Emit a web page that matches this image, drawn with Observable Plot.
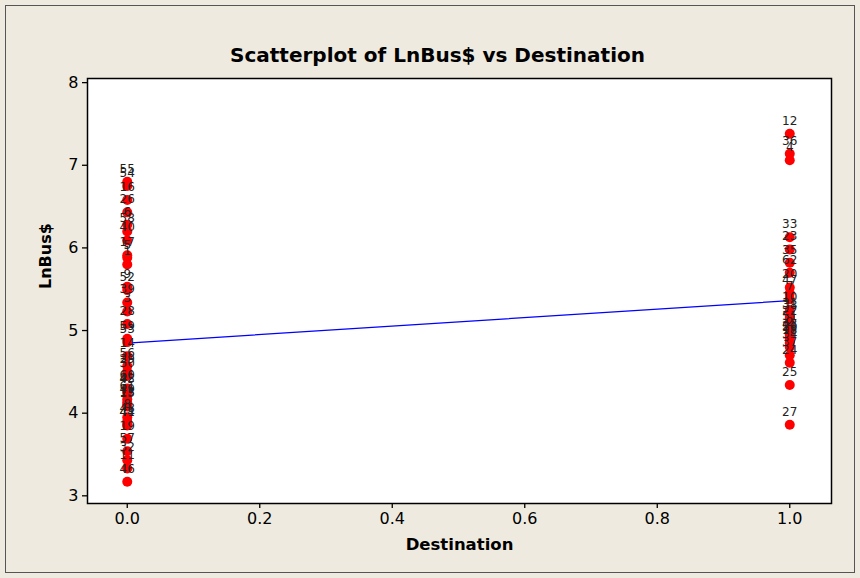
<!DOCTYPE html>
<html><head><meta charset="utf-8">
<script src="https://cdn.jsdelivr.net/npm/d3@7"></script>
<script src="https://cdn.jsdelivr.net/npm/@observablehq/plot@0.6"></script>
<style>
body{margin:0;background:#EEEADF;}
#wrap{position:relative;width:860px;height:578px;}
#border{position:absolute;left:5px;top:5px;width:848px;height:566px;border:1px solid #555;pointer-events:none;}
#wrap svg{position:absolute;left:0;top:0;}
</style></head><body><div id="wrap"><div id="border"></div></div>
<script>
// Destination = 0
const ids0 = [55,54,16,26,6,58,40,17,5,1,9,52,39,3,28,59,53,14,56,29,30,42,61,49,15,48,41,44,19,57,32,11,46,60,45,13,8];
const vals0 = [6.80,6.75,6.58,6.43,6.28,6.20,6.09,5.91,5.88,5.80,5.53,5.49,5.34,5.23,5.08,4.90,4.86,4.69,4.57,4.50,4.45,4.27,4.17,4.13,4.08,3.90,3.86,3.85,3.69,3.54,3.43,3.33,3.17,4.30,4.25,4.10,3.95];
// Destination = 1
const ids1 = [12,36,4,33,23,35,62,20,47,7,10,31,38,22,51,2,21,34,37,24,25,27,50,18,43];
const vals1 = [7.38,7.14,7.06,6.13,5.98,5.82,5.70,5.52,5.45,5.38,5.25,5.18,5.15,5.08,5.02,4.95,4.90,4.80,4.70,4.61,4.34,3.86,4.88,4.85,4.92];
const xTicks = [0,0.2,0.4,0.6,0.8,1.0];
const yTicks = [3,4,5,6,7,8];
const titleText = "Scatterplot of LnBus$ vs Destination";
const xLabel = "Destination";
const yLabel = "LnBus$";

const rows = [
  ...ids0.map((id,i)=>({id, dest:0, ln:vals0[i]})),
  ...ids1.map((id,i)=>({id, dest:1, ln:vals1[i]}))
];
const font = "DejaVu Sans, Verdana, sans-serif";
const chart = Plot.plot({
  width: 860, height: 578,
  marginLeft: 87, marginRight: 29, marginTop: 78, marginBottom: 75,
  x: {domain: [-0.06, 1.063]},
  y: {domain: [2.907, 8.05]},
  style: {background: "transparent", fontFamily: font, color: "black"},
  marks: [
    Plot.frame({fill: "white", stroke: null}),
    Plot.axisY({ticks: yTicks, tickFormat: d3.format("d"), tickSize: 5, tickPadding: 4, label: null, fontSize: 16, stroke: "black", strokeWidth: 1.3}),
    Plot.axisX({ticks: xTicks, tickFormat: d3.format(".1f"), tickSize: 5, tickPadding: 4, label: null, fontSize: 16, stroke: "black", strokeWidth: 1.3}),
    Plot.linearRegressionY(rows, {x: "dest", y: "ln", stroke: "#0000FF", strokeWidth: 1.2, ci: 0}),
    Plot.dot(rows, {x: "dest", y: "ln", r: 5, fill: "#FF0000", stroke: null}),
    Plot.text(rows, {x: "dest", y: "ln", text: d => String(d.id), dy: -13, fontSize: 12, fill: "#222"}),
    Plot.frame({stroke: "black", strokeWidth: 1.5}),
    Plot.text([titleText], {text: d => d, frameAnchor: "top", dy: -31, dx: -22, fontWeight: "bold", fontSize: 20, fill: "black"}),
    Plot.text([xLabel], {text: d => d, frameAnchor: "bottom", dy: 46, fontWeight: "bold", fontSize: 16.5, fill: "black"}),
    Plot.text([yLabel], {text: d => d, frameAnchor: "left", dx: -42, dy: -2, rotate: -90, fontWeight: "bold", fontSize: 16, fill: "black"})
  ]
});
document.getElementById("wrap").appendChild(chart);
</script>
</body></html>
